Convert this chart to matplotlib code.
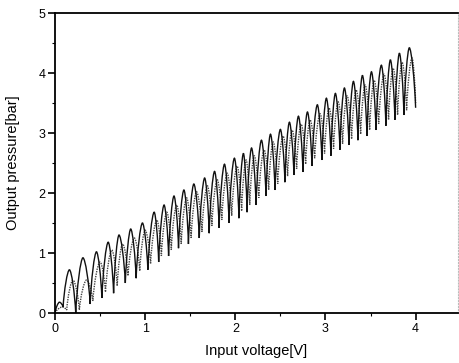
import matplotlib
matplotlib.use("Agg")
import matplotlib.pyplot as plt
from matplotlib.path import Path
from matplotlib.patches import PathPatch

plt.rcParams['font.family'] = ['Liberation Sans', 'DejaVu Sans']

# Trace A (solid): alternating trough / peak vertices
a_x = [0.00, 0.05, 0.09, 0.16, 0.23, 0.31, 0.39, 0.46, 0.52, 0.59, 0.65, 0.71, 0.78,
       0.84, 0.90, 0.97, 1.03, 1.10, 1.15, 1.21, 1.26, 1.32, 1.37, 1.43, 1.48,
       1.54, 1.60, 1.66, 1.71, 1.77, 1.82, 1.88, 1.93, 1.99, 2.04, 2.09, 2.13,
       2.18, 2.23, 2.29, 2.34, 2.39, 2.44, 2.50, 2.55, 2.60, 2.65, 2.70, 2.75,
       2.80, 2.85, 2.91, 2.96, 3.01, 3.06, 3.11, 3.16, 3.21, 3.26, 3.31, 3.36,
       3.41, 3.46, 3.51, 3.56, 3.62, 3.67, 3.72, 3.77, 3.82, 3.87, 3.93, 4.00]
a_y = [0.00, 0.18, 0.10, 0.72, 0.00, 0.92, 0.15, 1.02, 0.25, 1.18, 0.33, 1.30, 0.50,
       1.40, 0.58, 1.50, 0.72, 1.68, 0.85, 1.80, 0.95, 1.95, 1.08, 2.05, 1.15,
       2.15, 1.25, 2.25, 1.33, 2.36, 1.42, 2.48, 1.50, 2.58, 1.58, 2.66, 1.68,
       2.75, 1.80, 2.88, 1.95, 2.98, 2.05, 3.06, 2.18, 3.18, 2.30, 3.28, 2.35,
       3.35, 2.45, 3.47, 2.55, 3.58, 2.62, 3.66, 2.72, 3.75, 2.80, 3.86, 2.88,
       3.96, 2.95, 4.02, 3.05, 4.13, 3.12, 4.22, 3.22, 4.33, 3.30, 4.42, 3.42]

# Trace B (dotted): second run, slightly shifted
b_x = [0.00, 0.08, 0.13, 0.20, 0.27, 0.35, 0.42, 0.50, 0.56, 0.63, 0.69, 0.75, 0.81,
       0.88, 0.94, 1.00, 1.06, 1.13, 1.18, 1.24, 1.29, 1.35, 1.40, 1.46, 1.51,
       1.57, 1.63, 1.69, 1.74, 1.80, 1.85, 1.91, 1.96, 2.02, 2.07, 2.12, 2.16,
       2.21, 2.26, 2.32, 2.37, 2.42, 2.47, 2.53, 2.58, 2.63, 2.68, 2.73, 2.78,
       2.83, 2.88, 2.94, 2.99, 3.04, 3.09, 3.14, 3.19, 3.24, 3.29, 3.34, 3.39,
       3.44, 3.49, 3.54, 3.59, 3.65, 3.70, 3.75, 3.80, 3.85, 3.90, 3.96, 4.00]
b_y = [0.00, 0.10, 0.05, 0.55, 0.05, 0.55, 0.20, 0.85, 0.35, 1.05, 0.45, 1.15, 0.62,
       1.25, 0.70, 1.38, 0.82, 1.55, 0.95, 1.68, 1.05, 1.80, 1.15, 1.92, 1.25,
       2.02, 1.35, 2.12, 1.45, 2.22, 1.55, 2.33, 1.62, 2.45, 1.70, 2.55, 1.80,
       2.62, 1.92, 2.72, 2.05, 2.85, 2.15, 2.95, 2.28, 3.05, 2.40, 3.15, 2.48,
       3.22, 2.58, 3.32, 2.66, 3.42, 2.74, 3.52, 2.82, 3.62, 2.90, 3.72, 2.98,
       3.80, 3.05, 3.88, 3.15, 3.98, 3.22, 4.08, 3.30, 4.18, 3.38, 4.25, 3.50]

x_ticks = [0, 1, 2, 3, 4]
y_ticks = [0, 1, 2, 3, 4, 5]


def lobe_path(xs, ys):
    """Cubic Bezier path through the vertices: sharp troughs, rounded peaks."""
    verts = [(xs[0], ys[0])]
    codes = [Path.MOVETO]
    for i in range(1, len(xs)):
        x0, y0 = xs[i - 1], ys[i - 1]
        x1, y1 = xs[i], ys[i]
        dx, dy = x1 - x0, y1 - y0
        if dy >= 0:   # rising towards a peak
            c1 = (x0 + 0.15 * dx, y0 + 0.45 * dy)
            c2 = (x1 - 0.32 * dx, y1)
        else:         # falling from a peak
            c1 = (x0 + 0.32 * dx, y0)
            c2 = (x1 - 0.15 * dx, y1 - 0.45 * dy)
        verts += [c1, c2, (x1, y1)]
        codes += [Path.CURVE4] * 3
    return Path(verts, codes)


fig = plt.figure(figsize=(4.59, 3.63), dpi=100)
ax = fig.add_axes([55/459, 1-313/363, (458-55)/459, (313-13)/363])

ax.add_patch(PathPatch(lobe_path(b_x, b_y), facecolor='none', edgecolor='#444444',
                       lw=1.0, ls=(0, (1, 0.8))))
ax.add_patch(PathPatch(lobe_path(a_x, a_y), facecolor='none', edgecolor='#111111', lw=1.0))

ax.set_xlim(0, 4.47)
ax.set_ylim(0, 5)
ax.set_xticks(x_ticks)
ax.set_yticks(y_ticks)
ax.set_xticks([0.5, 1.5, 2.5, 3.5], minor=True)
ax.set_yticks([0.5, 1.5, 2.5, 3.5, 4.5], minor=True)
ax.tick_params(which='major', direction='out', length=5, width=1.2, labelsize=9, pad=2)
ax.tick_params(which='minor', direction='out', length=2.5, width=0.8)

for s in ['left', 'bottom', 'top']:
    ax.spines[s].set_linewidth(1.3)
ax.spines['right'].set_color('#bbbbbb')
ax.spines['right'].set_linestyle(':')
ax.spines['right'].set_linewidth(0.8)

ax.set_xlabel('Input voltage[V]', fontsize=10.5, labelpad=7)
ax.set_ylabel('Output pressure[bar]', fontsize=10.5, labelpad=13)

fig.savefig('out.png', dpi=100)
